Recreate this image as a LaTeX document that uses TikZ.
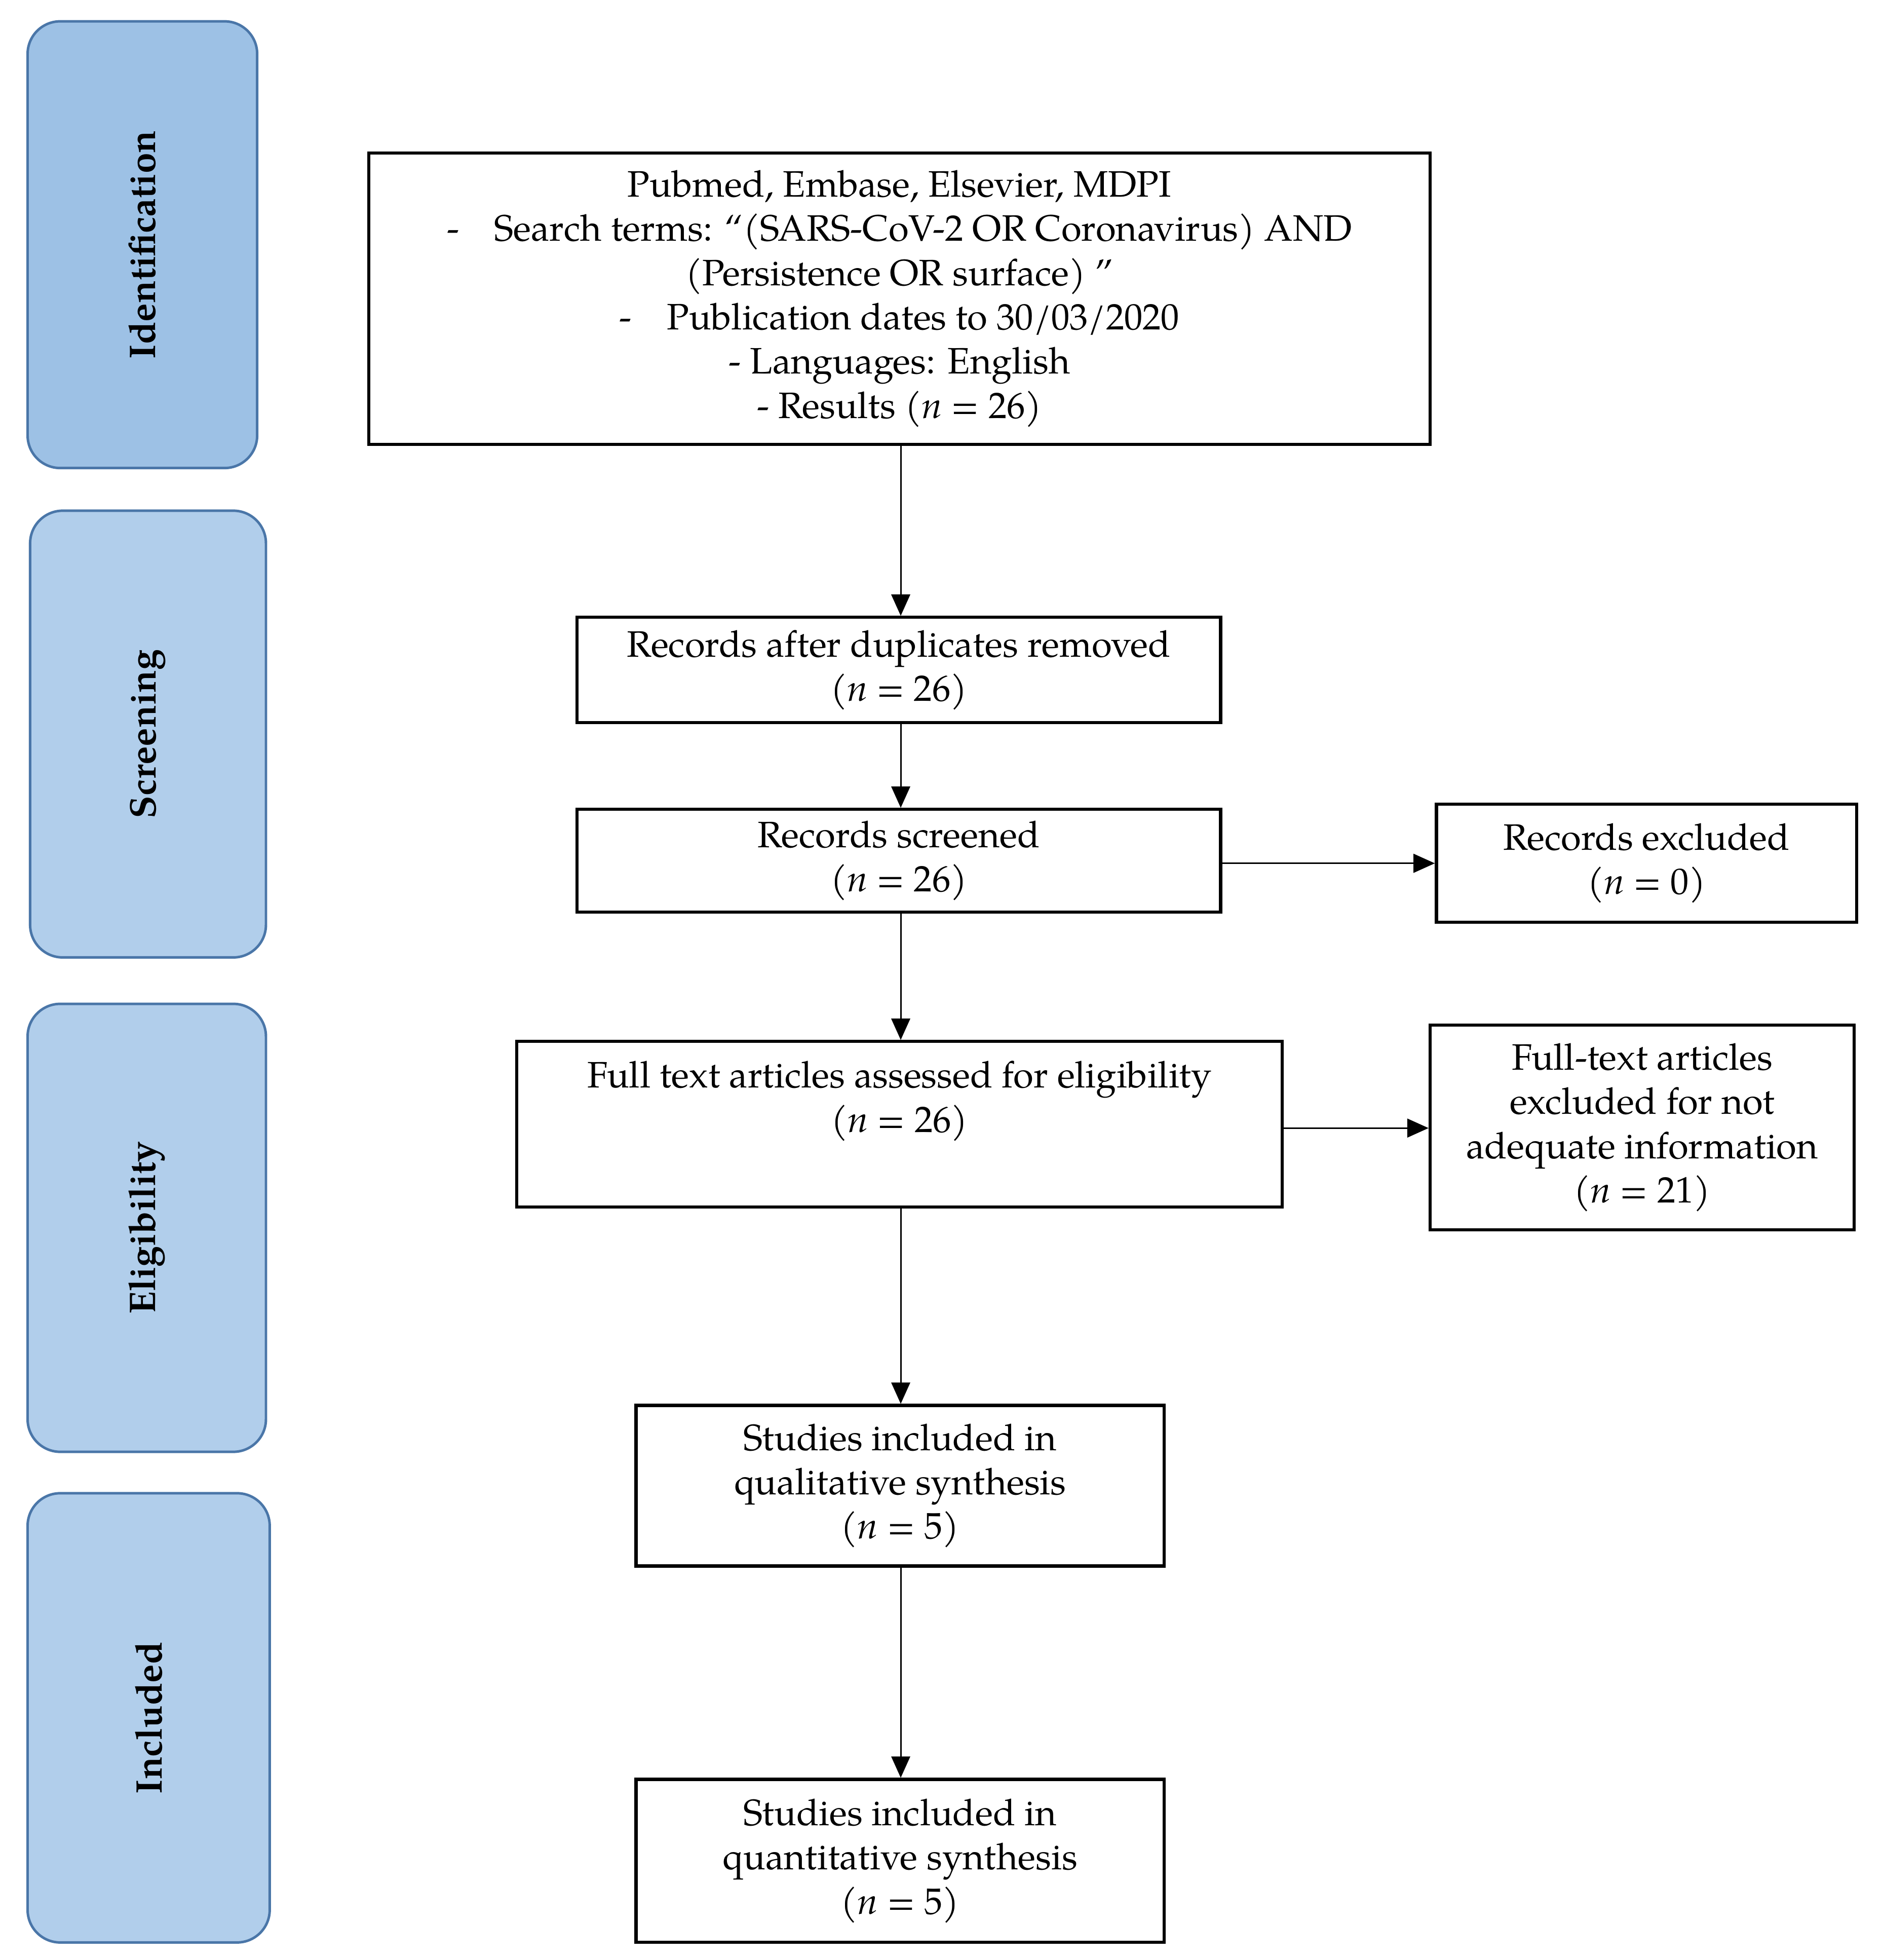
\documentclass[tikz,border=0pt]{standalone}
\usepackage{fontspec}
\setmainfont{TeX Gyre Pagella}
\usetikzlibrary{arrows.meta}
\definecolor{phasefill}{HTML}{B1CEEB}
\definecolor{phasefillA}{HTML}{9DC1E5}
\definecolor{phaseline}{HTML}{4A76A8}
\begin{document}
\begin{tikzpicture}[x=1pt,y=-1pt,
  phase/.style={draw=phaseline, line width=2pt, fill=phasefill, rounded corners=26pt,
    rotate=90, inner sep=0pt, font=\bfseries\fontsize{29.5}{34}\selectfont},
  stepbox/.style={draw=black, line width=2.5pt, align=center, inner sep=0pt,
    font=\fontsize{29.3}{35.3}\selectfont},
  txt/.style={align=center, inner sep=0pt, font=\fontsize{29.3}{35.3}\selectfont},
  arr/.style={-{Triangle[length=17pt,width=15pt]}, line width=1.2pt}]
\useasboundingbox (0,0) rectangle (1500,1562);

% phase labels
\node[phase, fill=phasefillA, minimum width=356pt, minimum height=183pt] (pid) at (113.5,195) {Identification};
\node[phase, minimum width=356pt, minimum height=188pt] (pscr) at (118,585) {Screening};
\node[phase, minimum width=357pt, minimum height=190pt] (pel) at (117,978.5) {Eligibility};
\node[phase, minimum width=358pt, minimum height=193pt] (pinc) at (118.5,1369) {Included};

% boxes
\node[stepbox, minimum width=846pt, minimum height=232pt] (top) at (717,238)
  {Pubmed, Embase, Elsevier, MDPI\\
   -\hspace{28pt}Search terms: “(SARS-CoV-2 OR Coronavirus) AND\\
   (Persistence OR surface) ”\\
   -\hspace{28pt}Publication dates to 30/03/2020\\
   - Languages: English\\
   - Results (\textit{n} = 26)};
\node[stepbox, minimum width=513pt, minimum height=84pt] (dup) at (716.5,534)
  {Records after duplicates removed\\(\textit{n} = 26)};
\node[stepbox, minimum width=513pt, minimum height=82pt] (scr) at (716.5,686)
  {Records screened\\(\textit{n} = 26)};
\node[stepbox, minimum width=335pt, minimum height=94pt] (exc) at (1312.5,688)
  {Records excluded\\(\textit{n} = 0)};
\node[stepbox, minimum width=610pt, minimum height=132pt] (ft) at (717,896) {};
\node[txt] (ftt) at (717,877.5)
  {Full text articles assessed for eligibility\\(\textit{n} = 26)};
\node[stepbox, minimum width=338pt, minimum height=163pt] (ftx) at (1309,898.5)
  {Full-text articles\\excluded for not\\adequate information\\(\textit{n} = 21)};
\node[stepbox, minimum width=421pt, minimum height=128pt] (qual) at (717.5,1184)
  {Studies included in\\qualitative synthesis\\(\textit{n} = 5)};
\node[stepbox, minimum width=421pt, minimum height=130pt] (quant) at (717.5,1483)
  {Studies included in\\quantitative synthesis\\(\textit{n} = 5)};

% connectors
\draw[arr] (top.south -| 718,0) -- (dup.north -| 718,0);
\draw[arr] (dup.south -| 718,0) -- (scr.north -| 718,0);
\draw[arr] (scr.east |- 0,688) -- (exc.west |- 0,688);
\draw[arr] (scr.south -| 718,0) -- (ft.north -| 718,0);
\draw[arr] (ft.east |- 0,899) -- (ftx.west |- 0,899);
\draw[arr] (ft.south -| 718,0) -- (qual.north -| 718,0);
\draw[arr] (qual.south -| 718,0) -- (quant.north -| 718,0);
\end{tikzpicture}
\end{document}
